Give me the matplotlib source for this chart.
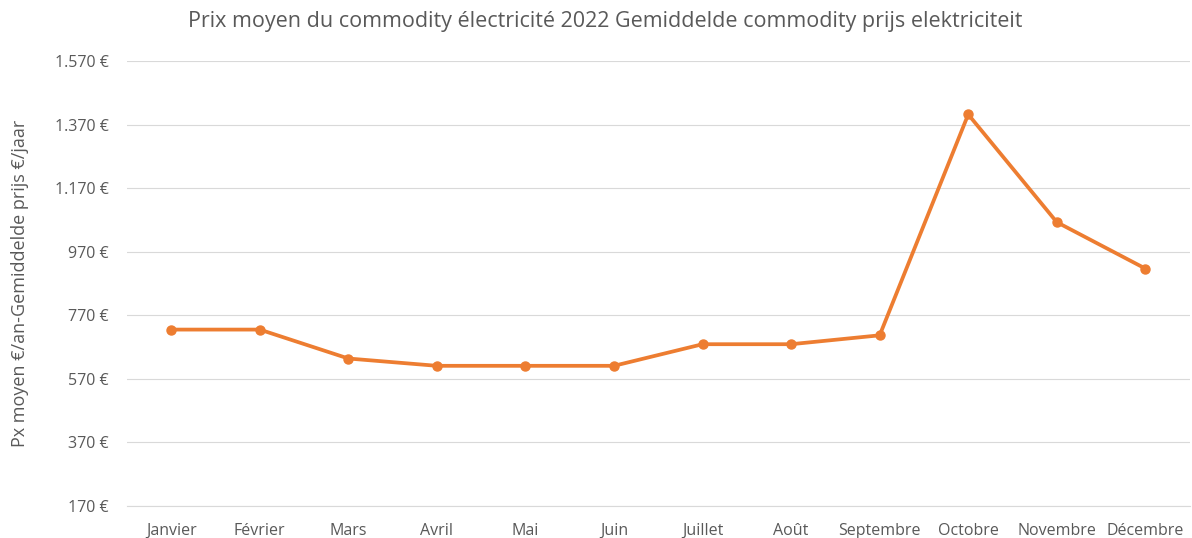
import matplotlib
matplotlib.use("Agg")
import matplotlib.pyplot as plt
from matplotlib.ticker import FuncFormatter

MONTHS = ["Janvier", "Février", "Mars", "Avril", "Mai", "Juin", "Juillet",
          "Août", "Septembre", "Octobre", "Novembre", "Décembre"]
PRICE = [725, 725, 634, 611, 611, 611, 679, 679, 707, 1402, 1063, 917]
Y_TICKS = [170, 370, 570, 770, 970, 1170, 1370, 1570]

ORANGE = "#ED7D31"
GREY_TXT = "#595959"
GRID = "#D9D9D9"

plt.rcParams.update({
    "font.family": ["Open Sans", "DejaVu Sans"],
    "font.size": 11,
})


def euro(v, _pos):
    return f"{int(v):,} €".replace(",", ".")


fig = plt.figure(figsize=(11.92, 5.38), dpi=100)
ax = fig.add_axes([0.1065, 0.0595, 0.8915, 0.8271])

x = range(len(MONTHS))
ax.plot(x, PRICE, color=ORANGE, lw=2.7, marker="o", ms=6.5,
        solid_capstyle="round", zorder=3)

ax.set_xlim(-0.5, len(MONTHS) - 0.5)
ax.set_ylim(Y_TICKS[0], Y_TICKS[-1])
ax.set_yticks(Y_TICKS)
ax.yaxis.set_major_formatter(FuncFormatter(euro))
ax.set_xticks(list(x))
ax.set_xticklabels(MONTHS)

ax.grid(axis="y", color=GRID, lw=0.8)
ax.set_axisbelow(True)
for s in ["top", "right", "left"]:
    ax.spines[s].set_visible(False)
ax.spines["bottom"].set_color(GRID)
ax.spines["bottom"].set_linewidth(0.8)
ax.tick_params(axis="both", length=0, colors=GREY_TXT, labelsize=11.5)
ax.tick_params(axis="y", pad=13)
ax.tick_params(axis="x", pad=12)

ax.set_ylabel("Px moyen €/an-Gemiddelde prijs €/jaar", color=GREY_TXT,
              fontsize=13)
ax.yaxis.set_label_coords(-0.092, 0.5)

fig.text(0.508, 0.960, "Prix moyen du commodity électricité 2022 Gemiddelde commodity prijs elektriciteit",
         ha="center", va="center", fontsize=15.5, color=GREY_TXT)

fig.savefig("out.png", dpi=100, facecolor="white")
